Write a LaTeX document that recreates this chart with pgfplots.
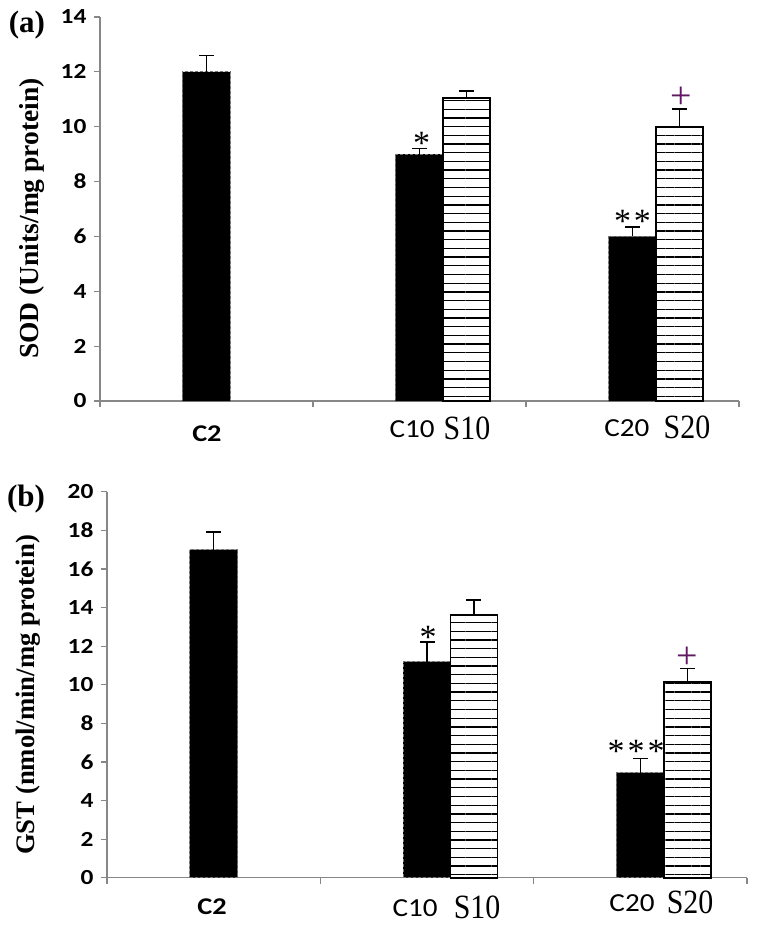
\documentclass[border=0pt]{standalone}
\usepackage{fontspec}
\setmainfont{Liberation Serif}
\newfontfamily\calb[FakeStretch=1.18]{Carlito}
\newfontfamily\calr[FakeStretch=1.12]{Carlito}
\newfontfamily\ser[FakeStretch=0.88]{Liberation Serif}
\usepackage{pgfplots}
\pgfplotsset{compat=1.18}
\usetikzlibrary{patterns.meta}
\definecolor{axgray}{RGB}{135,135,135}
\definecolor{plusc}{RGB}{95,25,95}

\pgfplotsset{
 mybars/.style={
  scale only axis, xmin=0, xmax=3, ymin=0,
  axis x line*=bottom, axis y line*=left,
  axis line style={axgray, line width=1.2pt},
  xtick={0,1,2,3}, xticklabels={},
  tick style={axgray, line width=1.2pt},
  tick align=outside, major tick length=6pt,
  yticklabel style={font=\fontsize{21.5}{23}\calb\bfseries, xshift=-4pt},
  /pgf/number format/assume math mode=true,
  clip=false,
 },
 cbar/.style={ybar, bar width=48pt, bar shift=0pt, fill=black, draw=black!55, densely dashed, line width=0.9pt, mark=none,
   error bars/y dir=plus, error bars/y explicit,
   error bars/error bar style={black, line width=1.5pt, solid},
   error bars/error mark options={rotate=90, mark size=7.5pt, line width=1.5pt, black, solid}},
 sbar/.style={ybar, bar width=47pt, bar shift=0pt, fill=white, draw=black, line width=1.6pt, mark=none,
   postaction={pattern={Lines[angle=0,distance=8.7pt,line width=1.3pt]}},
   error bars/y dir=plus, error bars/y explicit,
   error bars/error bar style={black, line width=1.5pt},
   error bars/error mark options={rotate=90, mark size=7.5pt, line width=1.5pt, black}},
}
\tikzset{
 clab/.style={font=\fontsize{26}{28}\calr},
 c2lab/.style={font=\fontsize{24}{26}\calb\bfseries},
 slab/.style={font=\fontsize{34}{36}\ser},
 star/.style={font=\fontsize{34}{36}\selectfont},
 plus/.style={font=\fontsize{38}{40}\selectfont, text=plusc},
}

\begin{document}
\begin{tikzpicture}
\path (-100pt,-526pt) rectangle (656pt,401pt);
% ---------------- panel (a)
\begin{axis}[mybars, at={(0pt,0pt)}, anchor=south west, width=639pt, height=384pt,
  ymax=14, ytick={0,2,...,14}]
\addplot[cbar] coordinates {(0.5,12.0) +- (0,0.6) (1.5,9.0) +- (0,0.2) (2.5,6.0) +- (0,0.35)};
\addplot[sbar] coordinates {(1.72,11.05) +- (0,0.25) (2.72,10.0) +- (0,0.65)};
\node[c2lab] at (axis cs:0.502,0) [yshift=-33pt] {C2};
\node[clab] at (axis cs:1.465,0) [yshift=-28pt] {C10};
\node[slab] at (axis cs:1.723,0) [yshift=-27pt] {S10};
\node[clab] at (axis cs:2.474,0) [yshift=-27pt] {C20};
\node[slab] at (axis cs:2.756,0) [yshift=-26pt] {S20};
\node[star] at (axis cs:1.51,9.62) [yshift=-6pt] {*};
\node[star] at (axis cs:2.5,6.78) [yshift=-6pt] {*\kern3pt*};
\node[plus] at (axis cs:2.73,11.08) [yshift=-1pt] {+};
\end{axis}
% ---------------- panel (b)
\begin{axis}[mybars, at={(7pt,-476.7pt)}, anchor=south west, width=640pt, height=386pt,
  ymax=20, ytick={0,2,...,20}]
\addplot[cbar] coordinates {(0.5,17.0) +- (0,0.9) (1.5,11.2) +- (0,1.0) (2.5,5.45) +- (0,0.73)};
\addplot[sbar] coordinates {(1.72,13.6) +- (0,0.8) (2.72,10.15) +- (0,0.7)};
\node[c2lab] at (axis cs:0.492,0) [yshift=-29pt] {C2};
\node[clab] at (axis cs:1.444,0) [yshift=-30pt] {C10};
\node[slab] at (axis cs:1.735,0) [yshift=-30pt] {S10};
\node[clab] at (axis cs:2.461,0) [yshift=-25pt] {C20};
\node[slab] at (axis cs:2.733,0) [yshift=-25pt] {S20};
\node[star] at (axis cs:1.505,12.75) [yshift=-6pt] {*};
\node[star] at (axis cs:2.48,6.88) [yshift=-6pt] {*\kern3pt*\kern3pt*};
\node[plus] at (axis cs:2.72,11.45) [yshift=-1pt] {+};
\end{axis}
% ---------------- panel letters and y labels
\node[font=\fontsize{31}{33}\selectfont\bfseries] at (-73pt,376pt) {(a)};
\node[font=\fontsize{31}{33}\selectfont\bfseries] at (-74pt,-98pt) {(b)};
\node[rotate=90, font=\fontsize{27.5}{30}\selectfont\bfseries] at (-68pt,182.5pt) {SOD (Units/mg protein)};
\node[rotate=90, font=\fontsize{26.7}{30}\selectfont\bfseries] at (-72pt,-294pt) {GST (nmol/min/mg protein)};
\end{tikzpicture}
\end{document}
